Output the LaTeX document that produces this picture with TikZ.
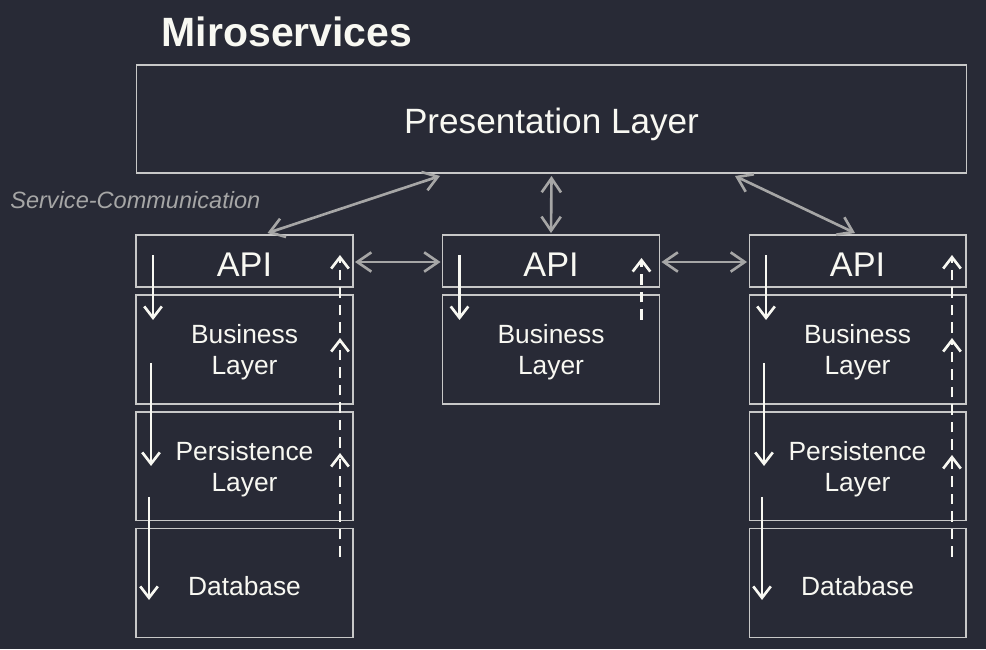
\documentclass[tikz,border=0pt]{standalone}
\usepackage{fontspec}
\setmainfont{Liberation Sans}
\usetikzlibrary{arrows.meta,positioning,calc}
\definecolor{bgdark}{HTML}{282A36}
\definecolor{fgwhite}{HTML}{F8F8F2}
\definecolor{linegray}{HTML}{A6A6A6}
\definecolor{boxgray}{HTML}{C8C8C8}

\begin{document}
\begin{tikzpicture}[
  x=0.02cm, y=-0.02cm,
  layer/.style={rectangle, draw=boxgray, line width=0.6pt,
                inner sep=0pt, outer sep=0pt,
                minimum width=4.34cm, minimum height=2.18cm,
                align=center, text=fgwhite,
                font=\fontsize{15}{18}\selectfont,
                execute at begin node={\rule{0pt}{0.9em}}},
  twoline/.style={text depth=-1.5pt},
  api/.style={layer, minimum height=1.04cm,
              font=\fontsize{19.5}{22}\selectfont},
  comm/.style={{Straight Barb[length=8pt,width=11pt]}-{Straight Barb[length=8pt,width=11pt]},
               draw=linegray, line width=1.5pt},
  callarr/.style={-{Straight Barb[length=6.5pt,width=10pt]}, draw=fgwhite, line width=1.5pt},
  retarr/.style={callarr, dash pattern=on 6pt off 4pt}
]
\fill[bgdark] (0,0) rectangle (986,649);

\node[text=fgwhite, font=\bfseries\fontsize{23.3}{28}\selectfont] (title) at (287,32) {Miroservices};

\node[layer, minimum width=16.62cm, minimum height=2.16cm, text depth=2pt,
      font=\fontsize{20}{24}\selectfont] (pres) at (551.5,119) {Presentation Layer};

\node[anchor=west, inner sep=0pt, text=linegray,
      font=\itshape\fontsize{13.4}{16}\selectfont] (commlabel) at (10,200) {Service-Communication};

% left service
\node[api] (apiL) at (244.5,261) {API};
\node[layer, twoline, below=0.16cm of apiL] (busL) {Business\\Layer};
\node[layer, twoline, below=0.16cm of busL] (perL) {Persistence\\Layer};
\node[layer, below=0.16cm of perL] (dbL) {Database};

% middle service
\node[api] (apiM) at (551,261) {API};
\node[layer, twoline, below=0.16cm of apiM] (busM) {Business\\Layer};

% right service
\node[api] (apiR) at (857.5,261) {API};
\node[layer, twoline, below=0.16cm of apiR] (busR) {Business\\Layer};
\node[layer, twoline, below=0.16cm of busR] (perR) {Persistence\\Layer};
\node[layer, below=0.16cm of perR] (dbR) {Database};

% service communication
\draw[comm] ($(apiL.north)+(23,-2)$) -- ($(pres.south)+(-111.5,3)$);
\draw[comm] ($(pres.south)+(0,3)$) -- ($(apiM.north)+(0,-2)$);
\draw[comm] ($(pres.south)+(183.5,3)$) -- ($(apiR.north)+(-2.5,-2)$);
\draw[comm] ($(apiL.east)+(2,1)$) -- ($(apiM.west)+(-2,1)$);
\draw[comm] ($(apiM.east)+(2,1)$) -- ($(apiR.west)+(-2,1)$);

% calls down the layers
\draw[callarr] ($(apiL.north west)+(17,20)$) -- ($(busL.north west)+(17,25)$);
\draw[callarr] ($(busL.north west)+(15,68)$) -- ($(perL.north west)+(15,54)$);
\draw[callarr] ($(perL.north west)+(13,85)$) -- ($(dbL.north west)+(13,71)$);
\draw[callarr] ($(apiM.north west)+(17,20)$) -- ($(busM.north west)+(17,25)$);
\draw[callarr] ($(apiR.north west)+(17,20)$) -- ($(busR.north west)+(17,25)$);
\draw[callarr] ($(busR.north west)+(15,68)$) -- ($(perR.north west)+(15,54)$);
\draw[callarr] ($(perR.north west)+(13,85)$) -- ($(dbR.north west)+(13,71)$);

% returns up the layers
\draw[retarr] ($(dbL.north east)+(-13,28)$) -- ($(perL.north east)+(-13,41)$);
\draw[retarr] ($(perL.north east)+(-13,36)$) -- ($(busL.north east)+(-13,43)$);
\draw[retarr] ($(busL.north east)+(-13,38)$) -- ($(apiL.north east)+(-13,20)$);
\draw[retarr] ($(busM.north east)+(-18,25)$) -- ($(apiM.north east)+(-18,23)$);
\draw[retarr] ($(dbR.north east)+(-14,28)$) -- ($(perR.north east)+(-14,43)$);
\draw[retarr] ($(perR.north east)+(-14,38)$) -- ($(busR.north east)+(-14,43)$);
\draw[retarr] ($(busR.north east)+(-14,38)$) -- ($(apiR.north east)+(-14,20)$);
\end{tikzpicture}
\end{document}
